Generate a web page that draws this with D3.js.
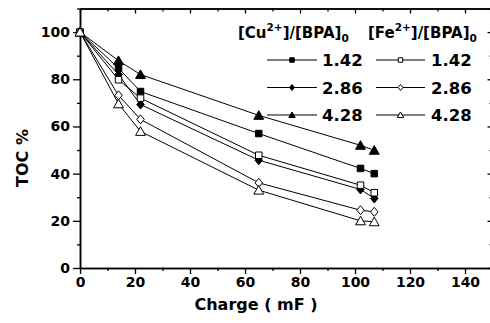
<!DOCTYPE html>
<html><head><meta charset="utf-8">
<script src="https://cdn.jsdelivr.net/npm/d3@7"></script>
<style>
html,body{margin:0;padding:0;background:#fff;}
svg{display:block;}
text{font-family:"DejaVu Sans",sans-serif;fill:#000;}
</style></head>
<body>
<svg id="c" width="490" height="323"></svg>
<script>
// ---- data ----
const charge = [0, 14, 22, 65, 102, 107];
const cu142 = [100, 84.7, 74.8, 57.0, 42.2, 40.0];
const cu286 = [100, 82.0, 69.3, 45.7, 33.3, 29.5];
const cu428 = [100, 87.9, 82.0, 64.7, 52.0, 49.9];
const fe142 = [100, 79.8, 72.0, 47.8, 35.1, 31.9];
const fe286 = [100, 73.2, 63.0, 36.1, 24.5, 23.8];
const fe428 = [100, 69.6, 57.9, 33.0, 20.0, 19.6];
const ratioLabels = ["1.42", "2.86", "4.28"];
const xTicks = [0, 20, 40, 60, 80, 100, 120, 140];
const yTicks = [0, 20, 40, 60, 80, 100];
const xMinor = [10, 30, 50, 70, 90, 110, 130, 150];
const yMinor = [10, 30, 50, 70, 90, 110];

const series = [
  {vals: cu142, shape: "square", filled: true},
  {vals: cu286, shape: "diamond", filled: true},
  {vals: cu428, shape: "triangle", filled: true},
  {vals: fe142, shape: "square", filled: false},
  {vals: fe286, shape: "diamond", filled: false},
  {vals: fe428, shape: "triangle", filled: false}
];

const svg = d3.select("#c");
const x = d3.scaleLinear().domain([0, 150]).range([80, 492.5]);
const y = d3.scaleLinear().domain([0, 110]).range([268, 8.5]);

function shapePath(shape, s) {
  if (shape === "square") { const h = s/2; return `M${-h},${-h}H${h}V${h}H${-h}Z`; }
  if (shape === "diamond") { const w = s/2, h = s*0.6; return `M0,${-h}L${w},0L0,${h}L${-w},0Z`; }
  const w = s*0.58, h = s*0.55; return `M0,${-h}L${w},${h*0.85}L${-w},${h*0.85}Z`;
}

const axG = svg.append("g");
function styleAxis(g){ g.select(".domain").attr("stroke","#000").attr("stroke-width",1.5);
  g.selectAll(".tick line").attr("stroke","#000").attr("stroke-width",1.3);
  g.selectAll("text").attr("font-size",14).attr("font-family","DejaVu Sans").attr("font-weight","bold"); }

axG.append("g").attr("transform","translate(0,268)")
  .call(d3.axisBottom(x).tickValues(xTicks).tickSize(6).tickPadding(3).tickSizeOuter(0).tickFormat(d3.format("d")))
  .call(styleAxis);
axG.append("g").attr("transform","translate(0,268)")
  .call(d3.axisBottom(x).tickValues(xMinor).tickSize(3).tickSizeOuter(0).tickFormat(""))
  .call(styleAxis);
axG.append("g").attr("transform","translate(80,0)")
  .call(d3.axisLeft(y).tickValues(yTicks).tickSize(7).tickPadding(3).tickSizeOuter(0).tickFormat(d3.format("d")))
  .call(styleAxis);
axG.append("g").attr("transform","translate(80,0)")
  .call(d3.axisLeft(y).tickValues(yMinor).tickSize(3).tickSizeOuter(0).tickFormat(""))
  .call(styleAxis);
axG.append("g").attr("transform","translate(0,8.5)")
  .call(d3.axisBottom(x).tickValues(xTicks).tickSize(5).tickSizeOuter(0).tickFormat(""))
  .call(styleAxis);
axG.append("g").attr("transform","translate(0,8.5)")
  .call(d3.axisBottom(x).tickValues(xMinor).tickSize(3).tickSizeOuter(0).tickFormat(""))
  .call(styleAxis);
axG.append("g").attr("transform","translate(492.5,0)")
  .call(d3.axisLeft(y).tickValues(yTicks).tickSize(5).tickSizeOuter(0).tickFormat(""))
  .call(styleAxis);
axG.append("g").attr("transform","translate(492.5,0)")
  .call(d3.axisLeft(y).tickValues(yMinor).tickSize(3).tickSizeOuter(0).tickFormat(""))
  .call(styleAxis);

svg.append("text").attr("x", 256).attr("y", 310).attr("text-anchor","middle")
  .attr("font-size",16).attr("font-weight","bold").text("Charge ( mF )");
svg.append("text").attr("transform","translate(28,158) rotate(-90)").attr("text-anchor","middle")
  .attr("font-size",16).attr("font-weight","bold").text("TOC %");

const line = d3.line().x((d,i)=>x(charge[i])).y(d=>y(d));
const plot = svg.append("g");
series.forEach(s => {
  plot.append("path").attr("d", line(s.vals)).attr("fill","none").attr("stroke","#000").attr("stroke-width",1);
});
series.forEach(s => {
  const sz = s.shape === "triangle" ? 8.5 : (s.shape === "diamond" ? 7.5 : 6.5);
  plot.selectAll(null).data(s.vals).enter().append("path")
    .attr("transform",(d,i)=>`translate(${x(charge[i])},${y(d)})`)
    .attr("d", shapePath(s.shape, sz))
    .attr("fill", s.filled ? "#000" : "#fff").attr("stroke","#000").attr("stroke-width",1);
});

const leg = svg.append("g");
function header(xp, base) {
  const t = leg.append("text").attr("x",xp).attr("y",38).attr("font-size",15).attr("font-weight","bold");
  t.append("tspan").text("[" + base);
  t.append("tspan").attr("font-size",10.5).attr("dy",-7).text("2+");
  t.append("tspan").attr("dy",7).text("]/[BPA]");
  t.append("tspan").attr("font-size",10.5).attr("dy",4).text("0");
}
header(238, "Cu");
header(368, "Fe");

const rowY = [60, 87.5, 115];
series.forEach((s, k) => {
  const col = k < 3 ? 0 : 1;
  const r = k % 3;
  const x0 = col === 0 ? 267 : 376, x1 = col === 0 ? 317 : 425;
  const tx = col === 0 ? 322 : 431;
  const cy = rowY[r];
  leg.append("line").attr("x1",x0).attr("x2",x1).attr("y1",cy).attr("y2",cy).attr("stroke","#000").attr("stroke-width",1);
  const sz = s.shape === "triangle" ? 5.5 : (s.shape === "diamond" ? 5 : 4.5);
  leg.append("path").attr("transform",`translate(${(x0+x1)/2},${cy})`).attr("d", shapePath(s.shape, sz))
    .attr("fill", s.filled ? "#000" : "#fff").attr("stroke","#000").attr("stroke-width",1);
  leg.append("text").attr("x",tx).attr("y",cy+6).attr("font-size",16.5).attr("font-weight","bold").text(ratioLabels[r]);
});
</script>
</body></html>
